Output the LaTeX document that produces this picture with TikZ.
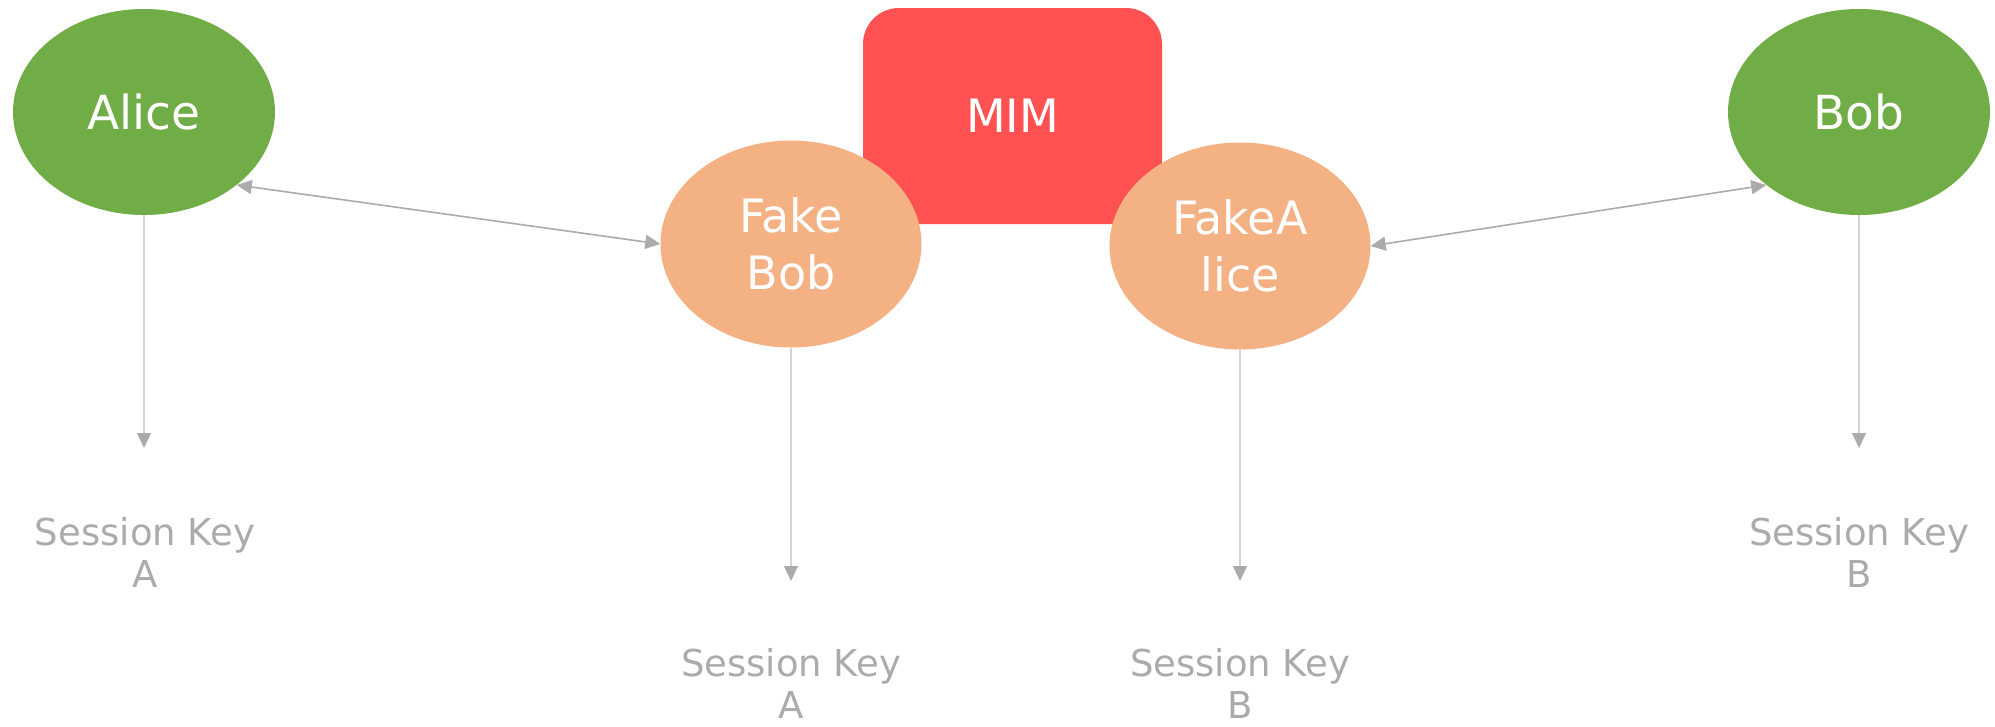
\documentclass[tikz,border=0pt]{standalone}
\usepackage{fontspec}
\setmainfont{DejaVu Sans}
\usetikzlibrary{shapes.geometric,arrows.meta}
\definecolor{agreen}{HTML}{70AD47}
\definecolor{forange}{HTML}{F4B183}
\definecolor{mimred}{HTML}{FF5151}
\definecolor{lgray}{HTML}{ADAAAA}
\definecolor{lline}{HTML}{D6D4D4}
\begin{document}
\begin{tikzpicture}[x=1pt,y=-1pt,
  person/.style={ellipse, fill=agreen, minimum width=262pt, minimum height=206pt, inner sep=0pt, text=white, font=\fontsize{47}{56}\selectfont},
  fake/.style={ellipse, fill=forange, minimum width=261pt, minimum height=207pt, inner sep=0pt, text=white, align=center, font=\fontsize{46}{57}\selectfont},
  mimbox/.style={rectangle, fill=mimred, rounded corners=36pt, minimum width=299pt, minimum height=216pt, inner sep=0pt, text=white, font=\fontsize{46}{56}\selectfont},
  keylabel/.style={text=lgray, align=center, font=\fontsize{37}{42}\selectfont, inner sep=0pt},
  biarrow/.style={draw=lgray, line width=1.6pt, {Triangle[length=15pt,width=14pt]}-{Triangle[length=15pt,width=14pt]}},
  downarrow/.style={draw=lline, line width=1.1pt, -{Triangle[length=15pt,width=14pt,color=lgray]}}]
\useasboundingbox (0,0) rectangle (1995,726);
\node[mimbox] (mim) at (1012.5,116) {\raisebox{-4pt}{MIM}};
\node[person] (alice) at (144,112) {Alice};
\node[person] (bob) at (1859,112) {Bob};
\node[fake] (fakebob) at (791,244) {Fake\\Bob};
\node[fake] (fakealice) at (1240,246) {FakeA\\lice};
\node[keylabel] (ska1) at (145,552) {Session Key\\A};
\node[keylabel] (skb1) at (1859,552) {Session Key\\B};
\node[keylabel] (ska2) at (791,683) {Session Key\\A};
\node[keylabel] (skb2) at (1240,683) {Session Key\\B};
\coordinate (ea) at (144,448);
\coordinate (eb) at (1859,448);
\coordinate (efb) at (791,581);
\coordinate (efa) at (1240,581);
\draw[biarrow] (alice.south east) -- (fakebob.west);
\draw[biarrow] (fakealice.east) -- (bob.south west);
\draw[downarrow] (alice.south) -- (ea);
\draw[downarrow] (bob.south) -- (eb);
\draw[downarrow] (fakebob.south) -- (efb);
\draw[downarrow] (fakealice.south) -- (efa);
\end{tikzpicture}
\end{document}
